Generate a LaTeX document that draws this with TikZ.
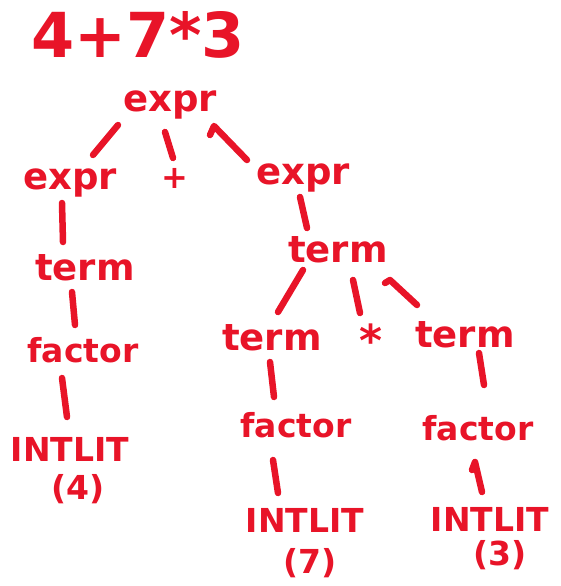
\documentclass[tikz,border=0pt]{standalone}
\usepackage{fontspec}
\setmainfont{DejaVu Sans}
\definecolor{ink}{RGB}{232,20,40}
\begin{document}
\begin{tikzpicture}[x=1pt,y=-1pt,
  lbl/.style={text=ink,inner sep=0pt,font=\bfseries\fontsize{37}{37}\selectfont},
  fac/.style={lbl,font=\bfseries\fontsize{33}{33}\selectfont},
  lit/.style={lbl,font=\bfseries\fontsize{33}{33}\selectfont},
  big/.style={text=ink,inner sep=0pt,font=\bfseries\fontsize{62}{62}\selectfont},
  edge/.style={draw=ink,line width=6.5pt,line cap=round,line join=round}]
\useasboundingbox (0,0) rectangle (560,586);
\node[big] (title) at (138,35) {4+7*3};
\node[lbl] (root) at (170,105) {expr};
\node[lbl] (lexpr) at (70,183) {expr};
\node[lbl,font=\bfseries\fontsize{32}{32}\selectfont] (plus) at (175,178) {+};
\node[lbl] (rexpr) at (303,178) {expr};
\node[lbl] (lterm) at (85,268) {term};
\node[fac] (lfactor) at (83,350) {factor};
\node[lit] (lint) at (70,449) {INTLIT};
\node[lit] (lnum) at (78,489) {(4)};
\node[lbl] (mterm) at (338,250) {term};
\node[lbl] (mterm2) at (272,338) {term};
\node[lbl,font=\bfseries\fontsize{44}{44}\selectfont] (star) at (371,340) {*};
\node[lbl] (rterm) at (465,335) {term};
\node[fac] (mfactor) at (296,425) {factor};
\node[fac] (rfactor) at (478,428) {factor};
\node[lit] (mint) at (305,520) {INTLIT};
\node[lit] (mnum) at (310,563) {(7)};
\node[lit] (rint) at (490,519) {INTLIT};
\node[lit] (rnum) at (500,555) {(3)};
% connectors
\draw[edge] ([shift={(-52,20)}]root.center) -- ([shift={(23,-28)}]lexpr.center);
\draw[edge] ([shift={(-5,27)}]root.center) -- ([shift={(-2,-20)}]plus.center);
\draw[edge] ([shift={(40,30)}]root.center) -- ([shift={(44,21)}]root.center) -- ([shift={(-56,-18)}]rexpr.center);
\draw[edge] ([shift={(-3,19)}]rexpr.center) -- ([shift={(-31,-22)}]mterm.center);
\draw[edge] ([shift={(-35,20)}]mterm.center) -- ([shift={(6,-26)}]mterm2.center);
\draw[edge] ([shift={(15,30)}]mterm.center) -- ([shift={(-11,-27)}]star.center);
\draw[edge] ([shift={(47,33)}]mterm.center) -- ([shift={(52,30)}]mterm.center) -- ([shift={(-48,-30)}]rterm.center);
\draw[edge] ([shift={(-8,20)}]lexpr.center) -- ([shift={(-22,-26)}]lterm.center);
\draw[edge] ([shift={(-13,24)}]lterm.center) -- ([shift={(-8,-25)}]lfactor.center);
\draw[edge] ([shift={(-21,28)}]lfactor.center) -- ([shift={(-3,-32)}]lint.center);
\draw[edge] ([shift={(-2,24)}]mterm2.center) -- ([shift={(-22,-28)}]mfactor.center);
\draw[edge] ([shift={(14,18)}]rterm.center) -- ([shift={(6,-43)}]rfactor.center);
\draw[edge] ([shift={(-23,35)}]mfactor.center) -- ([shift={(-27,-27)}]mint.center);
\draw[edge] ([shift={(-6,42)}]rfactor.center) -- ([shift={(-3,34)}]rfactor.center) -- ([shift={(-8,-27)}]rint.center);
\end{tikzpicture}
\end{document}
